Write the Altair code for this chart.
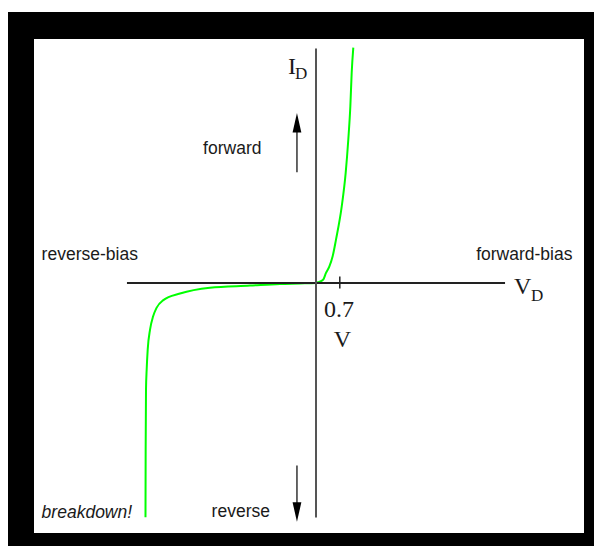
import altair as alt
import pandas as pd

# Diode I-V characteristic (V in volts, I in arbitrary units)
curve_v = [-5.015, -5.01, -5.0, -4.98, -4.95, -4.88, -4.79, -4.69, -4.49, -4.0,
           -3.12, -1.94, -1.06, -0.47, 0.0, 0.06, 0.215, 0.294, 0.391, 0.49,
           0.588, 0.756, 0.873, 0.95, 1.01, 1.05, 1.097]
curve_i = [-9.99, -7.10, -4.54, -3.69, -2.84, -1.98, -1.42, -1.06, -0.73, -0.45,
           -0.20, -0.11, -0.04, -0.02, 0.0, 0.03, 0.15, 0.43, 0.70, 1.14,
           1.85, 3.26, 4.70, 6.12, 7.54, 8.98, 10.04]

axis_v_span = [-5.56, 5.56]
axis_i_span = [-10.0, 10.0]
knee_voltage = 0.7

side_labels = ["reverse-bias", "forward-bias", "forward", "reverse"]
side_x = [-8.07, 4.71, -3.32, -3.07]
side_y = [0.97, 1.0, 5.52, -9.99]

curve_df = pd.DataFrame({"V": curve_v, "I": curve_i})

W, H = 586, 534
X_DOMAIN = [-308 / 34, (W - 308) / 34]
Y_DOMAIN = [-(H - 271) / 23.45, 271 / 23.45]

xs = alt.Scale(domain=X_DOMAIN, nice=False, zero=False)
ys = alt.Scale(domain=Y_DOMAIN, nice=False, zero=False)

SANS = "Liberation Sans"
SERIF = "Liberation Serif"
TXT = "#1a1a1a"

one = pd.DataFrame({"a": [0]})

white_panel = alt.Chart(one).mark_rect(color="white").encode(
    x=alt.value(26), x2=alt.value(576), y=alt.value(27), y2=alt.value(521)
)

h_axis = alt.Chart(one).mark_rule(color="#222", strokeWidth=2).encode(
    x=alt.datum(axis_v_span[0], scale=xs, axis=None),
    x2=alt.datum(axis_v_span[1]),
    y=alt.datum(0, scale=ys, axis=None),
)
v_axis = alt.Chart(one).mark_rule(color="#555", strokeWidth=2).encode(
    x=alt.datum(0),
    y=alt.datum(axis_i_span[0]),
    y2=alt.datum(axis_i_span[1]),
)
tick = alt.Chart(one).mark_rule(color="#222", strokeWidth=1.5).encode(
    x=alt.datum(knee_voltage),
    y=alt.datum(-0.23),
    y2=alt.datum(0.28),
)

curve = alt.Chart(curve_df).mark_line(
    color="#00ff00", strokeWidth=2, interpolate="monotone"
).encode(
    x=alt.X("V:Q", scale=xs, axis=None),
    y=alt.Y("I:Q", scale=ys, axis=None),
    order="V:Q",
)

# arrows
up_shaft = alt.Chart(one).mark_rule(color="black", strokeWidth=1.2).encode(
    x=alt.datum(-0.56), y=alt.datum(4.72), y2=alt.datum(6.8)
)
up_head = alt.Chart(one).mark_point(
    shape="M0,-1L0.45,1L-0.45,1Z", filled=True, color="black", opacity=1, size=380
).encode(x=alt.datum(-0.56), y=alt.datum(6.83))
down_shaft = alt.Chart(one).mark_rule(color="black", strokeWidth=1.2).encode(
    x=alt.datum(-0.56), y=alt.datum(-7.78), y2=alt.datum(-9.7)
)
down_head = alt.Chart(one).mark_point(
    shape="M0,1L0.45,-1L-0.45,-1Z", filled=True, color="black", opacity=1, size=380
).encode(x=alt.datum(-0.56), y=alt.datum(-9.77))

labels_df = pd.DataFrame({"t": side_labels, "x": side_x, "y": side_y})
side_text = alt.Chart(labels_df).mark_text(
    font=SANS, fontSize=17.5, align="left", baseline="alphabetic", color=TXT
).encode(x="x:Q", y="y:Q", text="t:N")

breakdown = alt.Chart(one).mark_text(
    font=SANS, fontSize=17.5, fontStyle="italic", align="left", baseline="alphabetic", color=TXT
).encode(x=alt.datum(-8.07), y=alt.datum(-10.0), text=alt.value("breakdown!"))

def serif(txt, x, y, size, align="left"):
    return alt.Chart(one).mark_text(
        font=SERIF, fontSize=size, align=align, baseline="alphabetic", color=TXT
    ).encode(x=alt.datum(x), y=alt.datum(y), text=alt.value(txt))

i_main = serif("I", -0.82, 8.93, 24)
i_sub = serif("D", -0.62, 8.68, 17)
v_main = serif("V", 5.82, -0.49, 24)
v_sub = serif("D", 6.32, -0.75, 17)
knee_num = serif("0.7", 0.676, -1.47, 24, "center")
knee_unit = serif("V", 0.78, -2.71, 24, "center")

chart = alt.layer(
    white_panel, curve, h_axis, v_axis, tick,
    up_shaft, up_head, down_shaft, down_head,
    side_text, breakdown, i_main, i_sub, v_main, v_sub, knee_num, knee_unit,
).properties(
    width=W, height=H,
    padding={"left": 0, "top": 4, "right": 0, "bottom": 0},
    autosize="none",
    background="white",
).configure_view(fill="black", stroke=None)

chart.save("out.html", embed_options={"renderer": "svg", "actions": False})
